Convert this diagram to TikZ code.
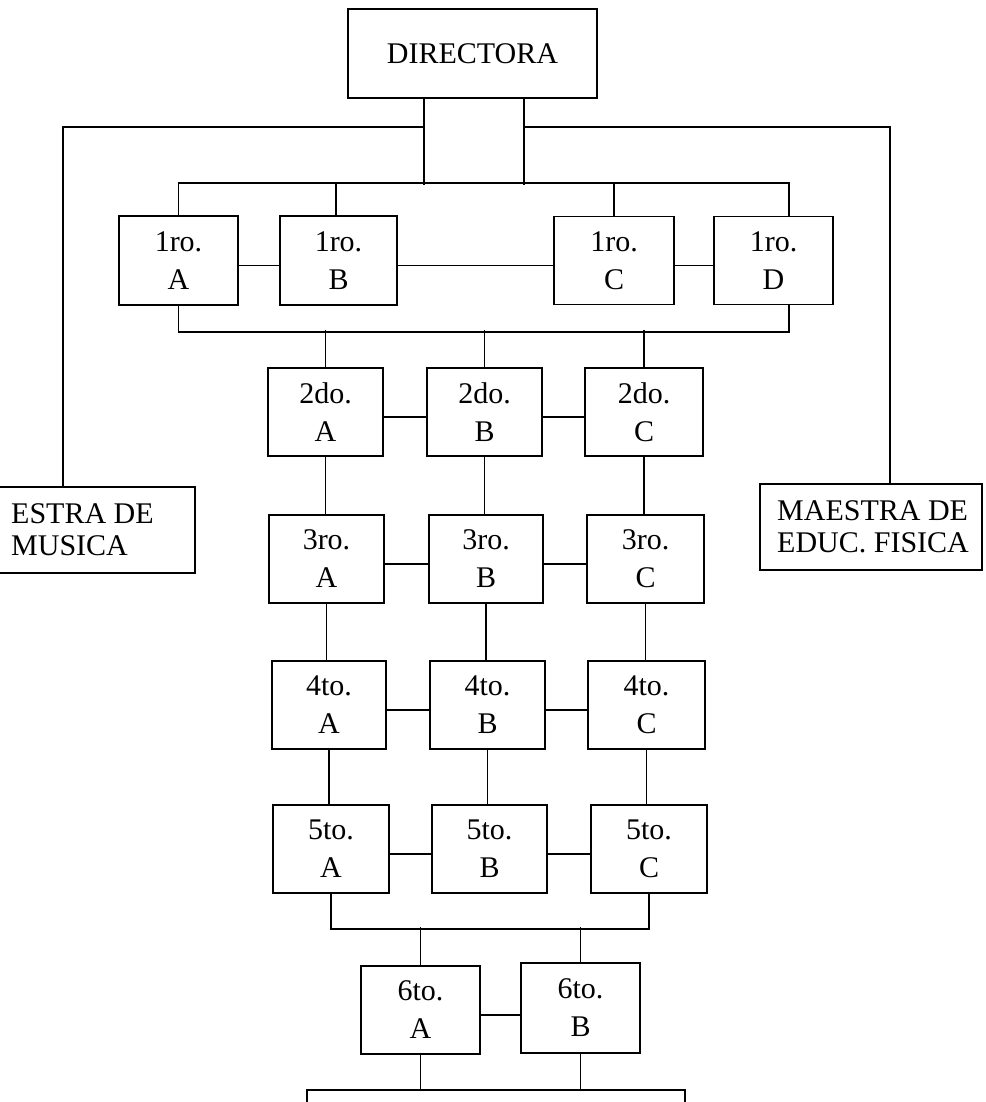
\documentclass[tikz,border=0pt]{standalone}
\usepackage{fontspec}
\setmainfont{Liberation Serif}
\usetikzlibrary{calc}
\begin{document}
\begin{tikzpicture}[x=1pt,y=-1pt,
  box/.style={draw,line width=1.8pt,inner sep=0pt,align=center,font=\fontsize{30}{38}\selectfont},
  grade/.style={box,minimum width=116pt,minimum height=88pt},
  frame/.style={draw,line width=1.8pt,inner sep=0pt},
  sidetext/.style={inner sep=0pt,align=left,font=\fontsize{30}{32}\selectfont},
  wire/.style={line width=1.7pt},
  hl/.style={yshift=-5pt}]
\clip (0,0) rectangle (985,1102);
\fill[white] (0,0) rectangle (985,1102);

% director
\node[box,minimum width=249pt,minimum height=89pt] (dir) at (472.5,53.5) {DIRECTORA};

% side boxes
\node[frame,minimum width=264pt,minimum height=86pt] (musbox) at (63,530) {};
\node[sidetext,anchor=west] (mus) at (11,530) {ESTRA DE\\MUSICA};
\node[frame,minimum width=222pt,minimum height=86pt] (edubox) at (871,527) {};
\node[sidetext,anchor=west] (edu) at (777,527) {MAESTRA DE\\EDUC. FISICA};

% 1ro
\node[grade,minimum width=119pt,minimum height=89pt] (p1A) at (178.5,260.5) {1ro.\\A};
\node[grade,minimum width=117pt,minimum height=89pt] (p1B) at (338.5,260.5) {1ro.\\B};
\node[grade,minimum width=120pt,minimum height=88pt] (p1C) at (614,260.5) {1ro.\\C};
\node[grade,minimum width=119pt,minimum height=88pt] (p1D) at (773.5,260.5) {1ro.\\D};
% 2do
\node[grade,minimum width=115pt] (p2A) at (325.5,412) {2do.\\A};
\node[grade,minimum width=115pt] (p2B) at (484.5,412) {2do.\\B};
\node[grade,minimum width=118pt] (p2C) at (644,412) {2do.\\C};
% 3ro
\node[grade,minimum width=115pt] (p3A) at (326.5,559) {3ro.\\A};
\node[grade,minimum width=114pt] (p3B) at (486,559) {3ro.\\B};
\node[grade,minimum width=117pt] (p3C) at (645.5,559) {3ro.\\C};
% 4to
\node[grade,minimum width=114pt] (p4A) at (329,705) {4to.\\A};
\node[grade,minimum width=115pt] (p4B) at (487.5,705) {4to.\\B};
\node[grade,minimum width=117pt] (p4C) at (646.5,705) {4to.\\C};
% 5to
\node[grade,minimum width=116pt] (p5A) at (331,849) {5to.\\A};
\node[grade,minimum width=115pt] (p5B) at (489.5,849) {5to.\\B};
\node[grade,minimum width=116pt] (p5C) at (649,849) {5to.\\C};
% 6to
\node[grade,minimum width=119pt,minimum height=88pt] (p6A) at (420.5,1010) {6to.\\A};
\node[grade,minimum width=119pt,minimum height=90pt] (p6B) at (580.5,1008) {6to.\\B};
% bottom box (cut by the page edge)
\node[frame,minimum width=378pt,minimum height=100pt] (bot) at (496,1140) {};

% director legs and side branches
\draw[wire] ($(dir.south)+(-48.5,0)$) coordinate (dl) -- ++(0,86);
\draw[wire] ($(dir.south)+(51.5,0)$) coordinate (dr) -- ++(0,86);
\draw[wire] (musbox.north) |- ($(dl)+(0,28)$);
\draw[wire] ($(edubox.north)+(19,0)$) |- ($(dr)+(0,28)$);

% bar above 1ro
\draw[wire] (p1A.north) -- ++(0,-32) -| ($(p1D.north)+(15.5,0)$);
\draw[wire] ($(p1B.north)+(-2.5,0)$) -- ++(0,-32);
\draw[wire] (p1C.north) -- ++(0,-32);
% horizontal links
\draw[wire] ([hl]p1A.east) -- ([hl]p1B.west);
\draw[wire] ([hl]p1B.east) -- ([hl]p1C.west);
\draw[wire] ([hl]p1C.east) -- ([hl]p1D.west);
\draw[wire] ([hl]p2A.east) -- ([hl]p2B.west);
\draw[wire] ([hl]p2B.east) -- ([hl]p2C.west);
\draw[wire] ([hl]p3A.east) -- ([hl]p3B.west);
\draw[wire] ([hl]p3B.east) -- ([hl]p3C.west);
\draw[wire] ([hl]p4A.east) -- ([hl]p4B.west);
\draw[wire] ([hl]p4B.east) -- ([hl]p4C.west);
\draw[wire] ([hl]p5A.east) -- ([hl]p5B.west);
\draw[wire] ([hl]p5B.east) -- ([hl]p5C.west);
\draw[wire] ([hl]p6A.east) -- ([hl]p6A.east -| p6B.west);

% bar below 1ro
\draw[wire] (p1A.south) -- ++(0,26) -| ($(p1D.south)+(15.5,0)$);
\draw[wire] (p2A.north) -- ++(0,-37);
\draw[wire] (p2B.north) -- ++(0,-37);
\draw[wire] (p2C.north) -- ++(0,-37);

% vertical chains
\foreach \c in {A,B,C}{
  \draw[wire] (p2\c.south) -- (p2\c.south |- p3\c.north);
  \draw[wire] (p3\c.south) -- (p3\c.south |- p4\c.north);
  \draw[wire] (p4\c.south) -- (p4\c.south |- p5\c.north);
}

% bar below 5to
\draw[wire] (p5A.south) -- ++(0,35) -| (p5C.south);
\draw[wire] (p6A.north) -- ++(0,-38);
\draw[wire] (p6B.north) -- ++(0,-35);

% to bottom box
\draw[wire] (p6A.south) -- (p6A.south |- bot.north);
\draw[wire] (p6B.south) -- (p6B.south |- bot.north);
\end{tikzpicture}
\end{document}
